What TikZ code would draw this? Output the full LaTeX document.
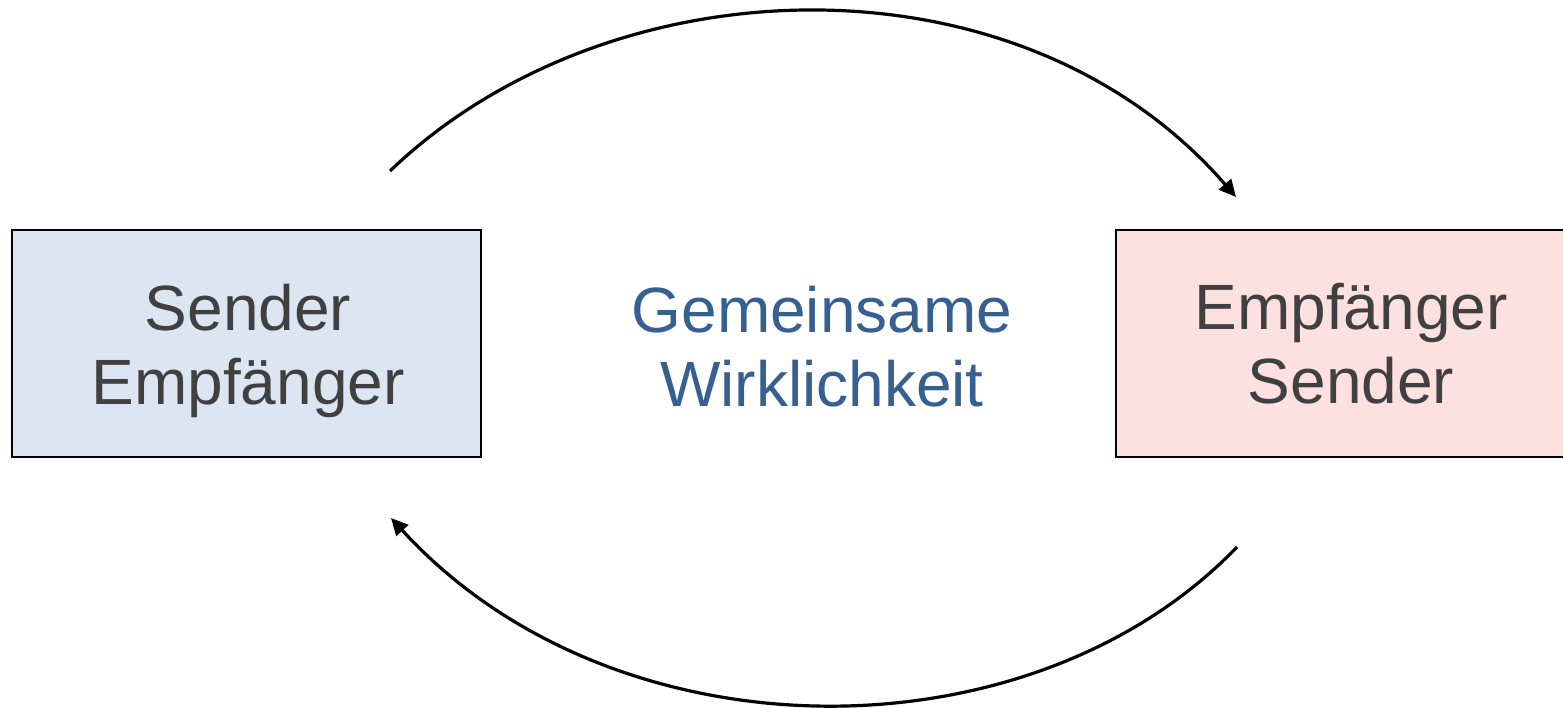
\documentclass[tikz,border=0pt]{standalone}
\usepackage{fontspec}
\setmainfont{Liberation Sans}
\usetikzlibrary{arrows.meta}
\definecolor{txtgray}{HTML}{404040}
\definecolor{txtblue}{HTML}{376092}
\definecolor{boxblue}{HTML}{DCE6F2}
\definecolor{boxpink}{HTML}{FDE0E0}
\begin{document}
\begin{tikzpicture}[x=1pt,y=-1pt,
  box/.style={draw=black,line width=1.6pt,minimum width=469pt,minimum height=227pt,inner sep=0pt,
    fill=#1},
  lbl/.style={align=center,font=\fontsize{64}{74}\selectfont},
  flow/.style={line width=3.2pt,-{Triangle[length=17pt,width=16pt]}}]
\useasboundingbox (0,0) rectangle (1563,708);
\node[box=boxblue] (send) at (246.5,343.5) {};
\node[box=boxpink,minimum width=449pt] (recv) at (1340.5,343.5) {};
\node[lbl,text=txtgray] (sendtxt) at (248,351) {Sender\\Empfänger};
\node[lbl,text=txtgray] (recvtxt) at (1351,344) {Empfänger\\Sender};
\node[lbl,text=txtblue] (mid) at (822,347) {Gemeinsame\\Wirklichkeit};
\coordinate (a1) at (390,171);
\coordinate (a2) at (1236,197);
\coordinate (b1) at (1237,547);
\coordinate (b2) at (391,518);
\draw[flow] (a1) .. controls (610,-40) and (1020,-52) .. (a2);
\draw[flow] (b1) .. controls (1030,762) and (614,762) .. (b2);
\end{tikzpicture}
\end{document}
